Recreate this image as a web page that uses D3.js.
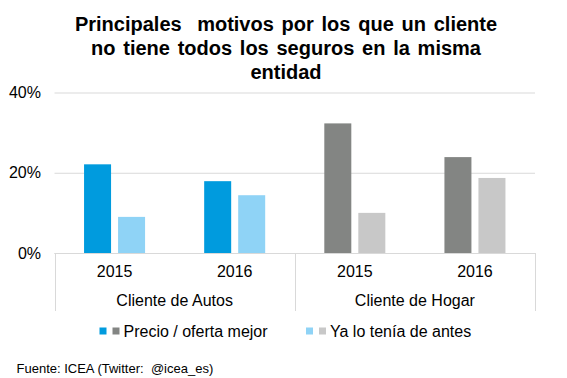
<!DOCTYPE html>
<html>
<head>
<meta charset="utf-8">
<script src="https://cdn.jsdelivr.net/npm/d3@7"></script>
<style>
  html, body { margin: 0; padding: 0; background: #fff; }
  svg { display: block; font-family: "Liberation Sans", Arial, sans-serif; }
  text { white-space: pre; }
</style>
</head>
<body>
<svg id="chart" width="567" height="378"></svg>
<script>
// ---- data ----
const titleLines = ["Principales  motivos por los que un cliente", "no tiene todos los seguros en la misma", "entidad"];
const groups = ["Cliente de Autos", "Cliente de Hogar"];
const years = ["2015", "2016"];
const precio = [22.1, 17.9, 32.3, 23.9];   // % Precio / oferta mejor
const antes  = [9.0, 14.4, 10.0, 18.7];    // % Ya lo tenía de antes
const seriesNames = ["Precio / oferta mejor", "Ya lo tenía de antes"];
const yTicks = [0, 20, 40];
const source = "Fuente: ICEA (Twitter:  @icea_es)";

// colours: [group][series]
const colors = [["#009BDE", "#8FD3F6"], ["#838583", "#C8C8C8"]];

// ---- build ----
const svg = d3.select("#chart");
const plotLeft = 54.5, plotRight = 535, plotTop = 92.5, plotBottom = 253;

const cats = [];
groups.forEach((g, gi) => years.forEach(yr => cats.push({ key: g + "|" + yr, group: g, gi, year: yr })));
cats.forEach((c, i) => { c.vals = [precio[i], antes[i]]; });

const x = d3.scaleBand().domain(cats.map(c => c.key)).range([plotLeft, plotRight]).padding(0);
const xs = d3.scaleBand().domain([0, 1]).range([0, x.bandwidth()]).paddingInner(0.206).paddingOuter(0.869);
const y = d3.scaleLinear().domain([0, 40]).range([plotBottom, plotTop]);

// title
svg.append("g").selectAll("text").data(titleLines).join("text")
  .attr("x", 286).attr("y", (d, i) => 30.7 + i * 24)
  .attr("text-anchor", "middle")
  .attr("font-size", 20).attr("font-weight", "bold")
  .attr("word-spacing", "2.2px")
  .attr("fill", "#000")
  .text(d => d);

// y axis with gridlines
const yAxis = d3.axisLeft(y).tickValues(yTicks).tickFormat(d => d + "%")
  .tickSize(-(plotRight - plotLeft)).tickPadding(13.5);
const gy = svg.append("g").attr("transform", `translate(${plotLeft},0)`).call(yAxis);
gy.select(".domain").remove();
gy.selectAll(".tick line").attr("stroke", "#D9D9D9").attr("stroke-width", 1);
gy.selectAll(".tick text").attr("font-size", 16).attr("fill", "#000")
  .attr("font-family", "'Liberation Sans', Arial, sans-serif");

// bars
const gBars = svg.append("g");
cats.forEach(c => {
  gBars.append("g").selectAll("rect").data(c.vals).join("rect")
    .attr("x", (d, i) => x(c.key) + xs(i))
    .attr("width", xs.bandwidth())
    .attr("y", d => y(d))
    .attr("height", d => y(0) - y(d))
    .attr("fill", (d, i) => colors[c.gi][i]);
});

// category axis lines
const axisG = svg.append("g").attr("stroke", "#D9D9D9").attr("stroke-width", 1);
axisG.append("line").attr("x1", plotLeft).attr("x2", plotRight).attr("y1", plotBottom + 0.5).attr("y2", plotBottom + 0.5);
const sepXs = [plotLeft, x(cats[2].key), plotRight];
axisG.selectAll("line.sep").data(sepXs).join("line").attr("class", "sep")
  .attr("x1", d => Math.round(d) + 0.5).attr("x2", d => Math.round(d) + 0.5)
  .attr("y1", plotBottom).attr("y2", 311);

// year labels
svg.append("g").selectAll("text").data(cats).join("text")
  .attr("x", d => x(d.key) + x.bandwidth() / 2)
  .attr("y", 277)
  .attr("text-anchor", "middle").attr("font-size", 16).attr("fill", "#000")
  .text(d => d.year);

// group labels
svg.append("g").selectAll("text").data(groups).join("text")
  .attr("x", (g, gi) => (x(cats[gi * 2].key) + x(cats[gi * 2 + 1].key) + x.bandwidth()) / 2)
  .attr("y", 306)
  .attr("text-anchor", "middle").attr("font-size", 16).attr("fill", "#000")
  .text(d => d);

// legend
const legendX = [99.5, 306];
const leg = svg.append("g");
seriesNames.forEach((name, si) => {
  const lx = legendX[si];
  leg.append("rect").attr("x", lx).attr("y", 327.5).attr("width", 7).attr("height", 7).attr("fill", colors[0][si]);
  leg.append("rect").attr("x", lx + 13).attr("y", 327.5).attr("width", 7).attr("height", 7).attr("fill", colors[1][si]);
  leg.append("text").attr("x", lx + 24).attr("y", 337).attr("font-size", 16).attr("fill", "#000").text(name);
});

// source
svg.append("text").attr("x", 16.5).attr("y", 373).attr("font-size", 13).attr("fill", "#000").text(source);
</script>
</body>
</html>
